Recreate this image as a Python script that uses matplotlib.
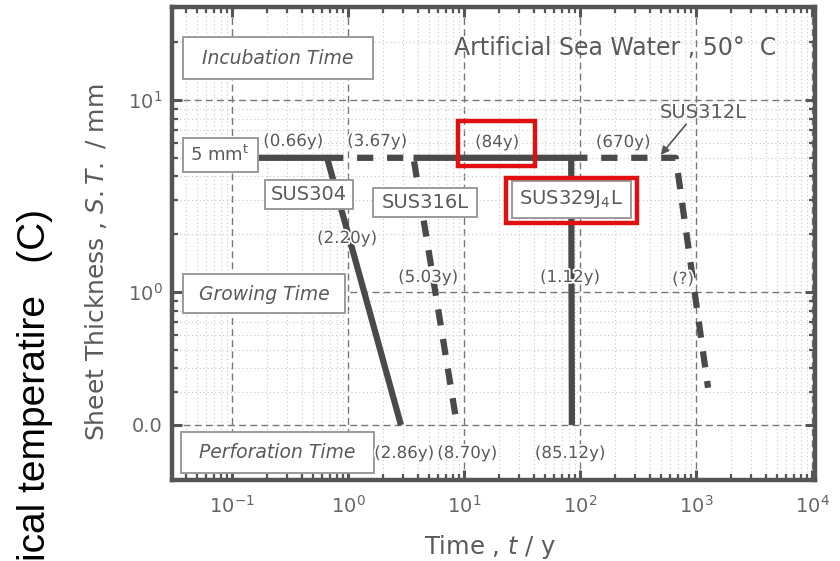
import numpy as np
import matplotlib
matplotlib.use("Agg")
import matplotlib.pyplot as plt
import matplotlib.patheffects as pe
from matplotlib.ticker import FixedLocator, FixedFormatter, LogLocator, NullFormatter
from matplotlib.patches import Rectangle

# ---------------- data ----------------
sus304_t = [0.15, 0.66, 2.86]
sus304_st = [5.0, 5.0, 0.0]
sus316l_t = [0.66, 3.67, 8.70]
sus316l_st = [5.0, 5.0, 0.0]
sus329_t = [3.67, 84.0, 85.12]
sus329_st = [5.0, 5.0, 0.0]
sus312_t = [84.0, 670.0, 1270.0]
sus312_st = [5.0, 5.0, 0.28]

x_ticks = [1e-1, 1e0, 1e1, 1e2, 1e3, 1e4]
y_ticks = [0.0, 1.0, 10.0]
y_ticklabels = ["0.0", r"$\mathdefault{10^{0}}$", r"$\mathdefault{10^{1}}$"]

time_labels = ["(0.66y)", "(3.67y)", "(84y)", "(670y)", "(2.20y)", "(5.03y)",
               "(1.12y)", "(?)", "(2.86y)", "(8.70y)", "(85.12y)"]

# ---------------- figure ----------------
W, H = 840, 561
L, R, T, B = 172, 815, 7, 480
fig = plt.figure(figsize=(W / 100, H / 100), dpi=100)
ax = fig.add_axes([L / W, (H - B) / H, (R - L) / W, (B - T) / H])

K = 192.0 / 133.0


def fwd(v):
    v = np.asarray(v, dtype=float)
    safe = np.where(v > 1, v, 1.0)
    return np.where(v > 1, 1 + K * np.log10(safe), v)


def inv(u):
    u = np.asarray(u, dtype=float)
    return np.where(u > 1, 10 ** ((u - 1) / K), u)


ax.set_xscale("log")
ax.set_yscale("function", functions=(fwd, inv))
ax.set_xlim(10 ** ((L - 348) / 116), 10 ** ((R - 348) / 116))
ax.set_ylim(-(B - 425) / 133, float(inv((425 - T) / 133)))

GRAY = "#555555"
LINE = "#4a4a4a"
TXT = "#5a5a5a"

ax.xaxis.set_major_locator(FixedLocator(x_ticks))
ax.xaxis.set_minor_locator(LogLocator(base=10, subs=np.arange(2, 10)))
ax.xaxis.set_minor_formatter(NullFormatter())
ax.yaxis.set_major_locator(FixedLocator(y_ticks))
ax.yaxis.set_major_formatter(FixedFormatter(y_ticklabels))
minor_y = [2, 3, 4, 5, 6, 7, 8, 9, 20, 30] + [1 + K * np.log10(m / 10) for m in range(3, 10)]
ax.yaxis.set_minor_locator(FixedLocator(minor_y))
ax.yaxis.set_minor_formatter(NullFormatter())

ax.tick_params(which="both", direction="in", top=True, right=True, colors=GRAY)
ax.tick_params(which="major", length=7, width=2.2, labelsize=14, labelcolor="#666666")
ax.tick_params(axis="x", which="major", pad=11)
ax.tick_params(axis="y", which="major", pad=7)
ax.tick_params(which="minor", length=4, width=1.6)
for s in ax.spines.values():
    s.set_linewidth(3.2)
    s.set_color(GRAY)

ax.grid(which="major", ls=(0, (5, 3)), color="#777777", lw=1.0)
ax.grid(which="minor", ls=(0, (1, 2.5)), color="#c8c8c8", lw=0.8)
ax.set_axisbelow(True)

lw = 4.5
ax.plot(sus304_t, sus304_st, color=LINE, lw=lw, solid_capstyle="butt", zorder=3)
ax.plot(sus316l_t, sus316l_st, color=LINE, lw=lw, ls=(0, (2.6, 2.2)), zorder=3)
ax.plot(sus329_t, sus329_st, color=LINE, lw=lw, solid_capstyle="butt", zorder=3)
ax.plot(sus312_t, sus312_st, color=LINE, lw=lw, ls=(0, (2.6, 2.2)), zorder=3)


def af(px, py):
    return ((px - L) / (R - L), (B - py) / (B - T))


def box(x0, y0, x1, y1, ec="#9a9a9a", lwidth=1.4, fc="white", z=5):
    ax0, ay1 = af(x0, y0)
    ax1, ay0 = af(x1, y1)
    ax.add_patch(Rectangle((ax0, ay0), ax1 - ax0, ay1 - ay0, transform=ax.transAxes,
                           fc=fc, ec=ec, lw=lwidth, zorder=z, clip_on=False))


def txt(px, py, s, size=12, style="normal", color=TXT, z=6, halo=False):
    x, y = af(px, py)
    t = ax.text(x, y, s, transform=ax.transAxes, ha="center", va="center",
                fontsize=size, style=style, color=color, zorder=z)
    if halo:
        t.set_path_effects([pe.withStroke(linewidth=2.5, foreground="white")])


# phase boxes
box(183, 37, 373, 79)
txt(278, 58, "Incubation Time", 13.5, "italic")
box(183, 274, 345, 313)
txt(264, 294, "Growing Time", 13.5, "italic")
box(181, 432, 374, 473)
txt(277, 453, "Perforation Time", 13.5, "italic")
box(183, 138, 258, 172)
txt(220, 155, r"5 mm$^{\mathrm{t}}$", 13)

# steel boxes
box(265, 180, 353, 209)
txt(309, 195, "SUS304", 14)
box(373, 188, 477, 217)
txt(425, 203, "SUS316L", 14)
box(506, 178, 637, 223, ec="#e01010", lwidth=3.2, fc="none", z=7)
box(512, 181, 631, 218)
txt(571, 199, r"SUS329J$_{4}$L", 14)
box(458, 121, 535, 166, ec="#e01010", lwidth=3.2, fc="none", z=7)

# time labels
label_px = [(293, 141), (377, 141), (497, 142), (623, 142), (347, 238), (428, 277),
            (570, 277), (683, 279), (404, 453), (467, 453), (570, 453)]
for s, (px, py) in zip(time_labels, label_px):
    txt(px, py, s, 12, halo=True)

txt(703, 112, "SUS312L", 14)
ax.annotate("", xy=af(659, 157), xytext=af(688, 122), xycoords="axes fraction",
            textcoords="axes fraction",
            arrowprops=dict(arrowstyle="-|>", color="#555555", lw=1.2, mutation_scale=12),
            zorder=6)

txt(615, 48, "Artificial Sea Water , 50°  C", 17)

ax.set_xlabel(r"Time , $\mathit{t}$ / y", fontsize=17.5, color=TXT)
ax.xaxis.set_label_coords(*af(490, 547))
ax.xaxis.label.set_va("center")
ax.set_ylabel(r"Sheet Thickness , $\mathit{S.T.}$ / mm", fontsize=18, color=TXT)
ax.yaxis.set_label_coords(*af(96, 262))
ax.yaxis.label.set(rotation_mode="default", ha="center", va="center")

fig.text(35 / W, 0.0, "ical temperatire   (C)", rotation=90, ha="center", va="bottom",
         fontsize=28, family="Liberation Sans", color="black")

fig.savefig("out.png", dpi=100)
